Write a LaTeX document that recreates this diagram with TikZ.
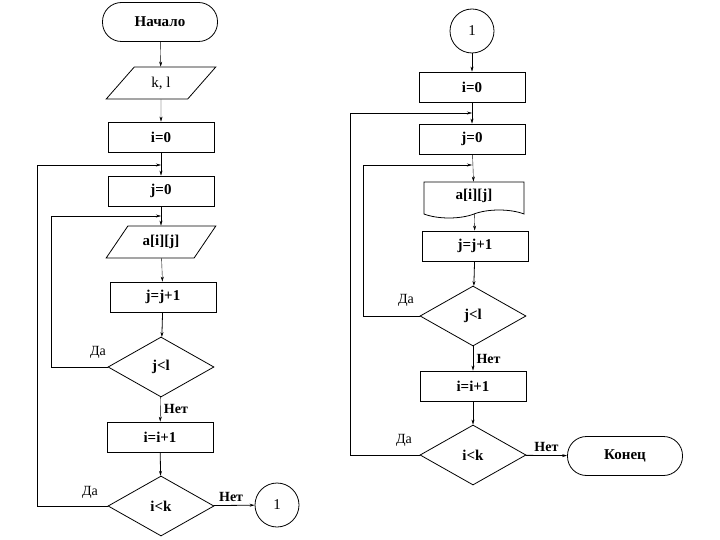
\documentclass[tikz,border=0pt]{standalone}
\usepackage{fontspec}
\setmainfont{Liberation Serif}
\usetikzlibrary{shapes.geometric,shapes.symbols,arrows.meta}
\begin{document}
\begin{tikzpicture}[x=1pt,y=-1pt,
  every node/.style={font=\fontsize{15}{17}\selectfont\bfseries},
  box/.style={draw,thick,minimum width=106pt,minimum height=30pt},
  io/.style={draw,thick,trapezium,trapezium left angle=55,trapezium right angle=125,trapezium stretches=true,minimum width=110pt,minimum height=32pt},
  dec/.style={draw,thick,diamond,aspect=1.77,minimum width=106pt,minimum height=60pt,inner sep=0pt},
  term/.style={draw,thick,rounded corners=19pt,minimum width=115pt,minimum height=39pt},
  con/.style={draw,thick,circle,minimum size=44pt,inner sep=0pt},
  lbl/.style={font=\fontsize{14}{16}\selectfont},
  ar/.style={-{Stealth[length=5pt,width=3pt]},thin}]
\useasboundingbox (0,0) rectangle (720,540);
% left column
\node[term] (s) at (160,22) {Начало};
\node[io] (k) at (161,83) {\mdseries k, l};
\node[box] (i0) at (161,137) {i=0};
\node[box] (j0) at (161,191) {j=0};
\node[io] (a) at (161,242) {a[i][j]};
\node[box] (jj) at (163,297) {j=j+1};
\node[dec] (d1) at (161,367) {j<l};
\node[box] (ii) at (160,437) {i=i+1};
\node[dec] (d2) at (161,506) {i<k};
\node[con] (c1) at (277,505) {\mdseries 1};
\draw[ar] (s) -- (k);
\draw[ar] (k) -- (i0);
\draw[ar] (i0) -- (j0);
\draw[ar] (j0) -- (a);
\draw[ar] (a) -- (jj);
\draw[ar,thick] (jj) -- (d1);
\draw[ar] (d1) -- node[right,pos=0.5,font=\fontsize{14}{16}\selectfont\bfseries]{Нет} (ii);
\draw[ar,thick] (ii) -- (d2);
\draw[ar,thick] (d2) -- node[above,font=\fontsize{14}{16}\selectfont\bfseries,xshift=-3pt]{Нет} (c1);
\coordinate (l1) at (161,216);
\coordinate (l2) at (161,165);
\draw[ar] (d1.west) -| (51,216) -- (l1);
\draw[ar] (d2.west) -| (37,165) -- (l2);
\node[lbl] at (98,352) {Да};
\node[lbl] at (90,492) {Да};
% right column
\node[con] (c2) at (472,31) {\mdseries 1};
\node[box] (ri0) at (472,87) {i=0};
\node[box] (rj0) at (472,139) {j=0};
\node[draw,thick,tape,tape bend top=none,tape bend height=8pt,minimum width=100pt,minimum height=36pt] (ra) at (474,196) {a[i][j]};
\node[box] (rjj) at (475,246) {j=j+1};
\node[dec] (rd1) at (473,316) {j<l};
\node[box] (rii) at (473,386) {i=i+1};
\node[dec] (rd2) at (473,455) {i<k};
\node[term] (end) at (625,456) {Конец};
\draw[ar] (c2) -- (ri0);
\draw[ar] (ri0) -- (rj0);
\draw[ar] (rj0) -- (ra);
\draw[ar] (ra) -- (rjj);
\draw[ar,thick] (rjj) -- (rd1);
\draw[ar] (rd1) -- node[right,pos=0.5,font=\fontsize{14}{16}\selectfont\bfseries]{Нет} (rii);
\draw[ar] (rii) -- (rd2);
\draw[ar,thick] (rd2) -- node[above,font=\fontsize{14}{16}\selectfont\bfseries]{Нет} (end);
\coordinate (r1) at (472,165);
\coordinate (r2) at (472,113);
\draw[ar] (rd1.west) -| (363,165) -- (r1);
\draw[ar] (rd2.west) -| (350,113) -- (r2);
\node[lbl] at (406,300) {Да};
\node[lbl] at (404,440) {Да};
\end{tikzpicture}
\end{document}
